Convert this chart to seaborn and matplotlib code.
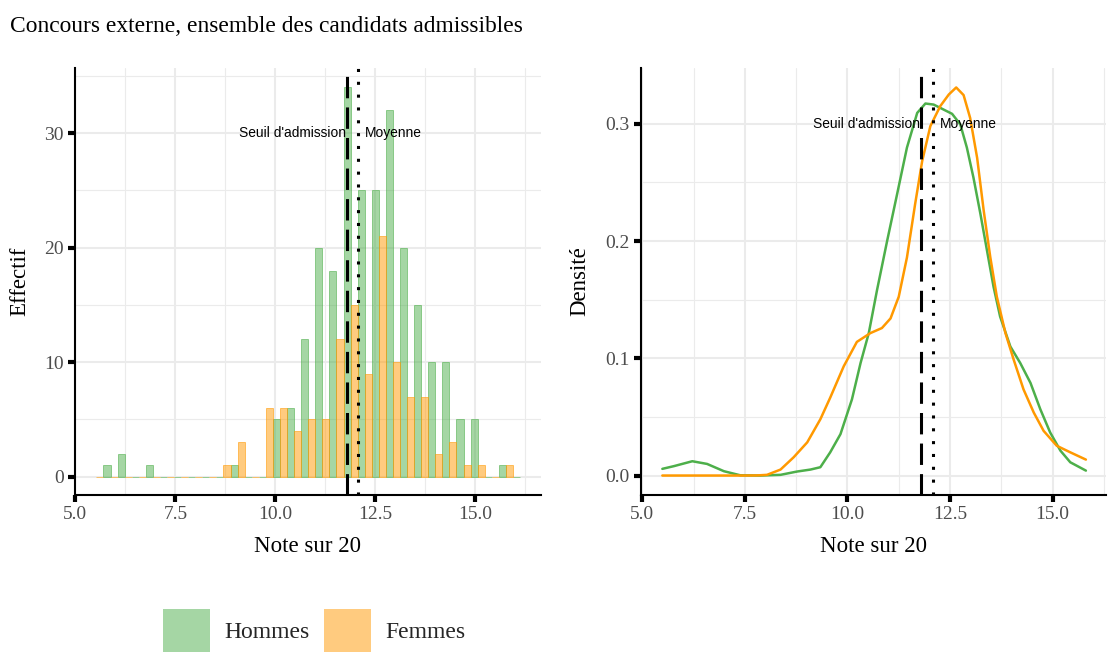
import numpy as np
import pandas as pd
import seaborn as sns
import matplotlib
matplotlib.use("Agg")
import matplotlib.pyplot as plt
from matplotlib.patches import Patch
from matplotlib.ticker import MultipleLocator

# ---------------- data ----------------
title = "Concours externe, ensemble des candidats admissibles"
groups = ["Hommes", "Femmes"]
colors = {"Hommes": "#4daf4a", "Femmes": "#ff9900"}

# histogram: 30 bins between these bounds
bin_lo, bin_hi, n_bins = 5.525, 16.125, 30
hommes_counts = [1, 2, 0, 1, 0, 0, 0, 0, 0, 1, 0, 0, 5, 6, 12, 20, 18, 34, 25, 25,
                 32, 20, 15, 10, 10, 5, 5, 0, 1, 0]
femmes_counts = [0, 0, 0, 0, 0, 0, 0, 0, 0, 1, 3, 0, 6, 6, 4, 5, 5, 12, 15, 9,
                 21, 10, 7, 7, 2, 3, 1, 1, 0, 1]

# density curves
dens_h_x = [5.49, 5.77, 6.22, 6.58, 6.99, 7.39, 7.88, 8.37, 8.77, 9.10, 9.34, 9.58,
            9.83, 10.11, 10.32, 10.52, 10.72, 10.97, 11.21, 11.45, 11.70, 11.90,
            12.10, 12.34, 12.55, 12.75, 12.91, 13.07, 13.24, 13.40, 13.56, 13.72,
            13.97, 14.21, 14.46, 14.70, 14.94, 15.19, 15.43, 15.81]
dens_h_y = [0.0057, 0.0080, 0.0122, 0.0099, 0.0037, 0.0002, 0.0, 0.0006, 0.0034,
            0.0051, 0.0071, 0.0198, 0.0353, 0.065, 0.096, 0.1215, 0.158, 0.2006,
            0.240, 0.2797, 0.3093, 0.3173, 0.3164, 0.3122, 0.3085, 0.2995, 0.2797,
            0.2542, 0.2232, 0.192, 0.161, 0.1356, 0.110, 0.096, 0.079, 0.0565,
            0.0367, 0.0212, 0.0113, 0.0042]
dens_f_x = [5.49, 7.50, 7.80, 8.04, 8.37, 8.69, 9.02, 9.34, 9.58, 9.91, 10.23, 10.56,
            10.84, 11.05, 11.25, 11.45, 11.65, 11.82, 12.02, 12.26, 12.47, 12.65,
            12.83, 12.99, 13.16, 13.32, 13.48, 13.64, 13.85, 14.05, 14.29, 14.54,
            14.78, 15.10, 15.43, 15.81]
dens_f_y = [0.0, 0.0, 0.0001, 0.0006, 0.0051, 0.0156, 0.0283, 0.048, 0.0664, 0.0932,
            0.114, 0.1215, 0.1258, 0.134, 0.1525, 0.186, 0.2317, 0.268, 0.298, 0.315,
            0.325, 0.331, 0.3245, 0.305, 0.271, 0.226, 0.1864, 0.1525, 0.1215, 0.0989,
            0.0735, 0.0537, 0.0381, 0.0254, 0.0198, 0.0136]

seuil = 11.80
moyenne = 12.08
seuil_label = "Seuil d'admission"
moyenne_label = "Moyenne"
xlabel = "Note sur 20"
ylabel_left = "Effectif"
ylabel_right = "Densité"

# ---------------- frames ----------------
bin_w = (bin_hi - bin_lo) / n_bins
centers = [bin_lo + bin_w * (i + 0.5) for i in range(n_bins)]
hist_df = pd.DataFrame({
    "note": centers + centers,
    "n": [float(v) for v in hommes_counts + femmes_counts],
    "sexe": ["Hommes"] * n_bins + ["Femmes"] * n_bins,
})
dens_df = pd.DataFrame({
    "note": dens_h_x + dens_f_x,
    "densite": dens_h_y + dens_f_y,
    "sexe": ["Hommes"] * len(dens_h_x) + ["Femmes"] * len(dens_f_x),
})

# ---------------- style ----------------
sns.set_theme(style="white")
plt.rcParams["font.family"] = ["Liberation Serif", "DejaVu Serif"]

fig = plt.figure(figsize=(11.1, 6.52), dpi=100)
W, H = 1110, 652
def rect(x0, y0, x1, y1):
    return [x0 / W, 1 - y1 / H, (x1 - x0) / W, (y1 - y0) / H]

ax1 = fig.add_axes(rect(75, 68, 541, 495))
ax2 = fig.add_axes(rect(641, 68, 1106, 495))

sns.histplot(data=hist_df, x="note", weights="n", hue="sexe", bins=n_bins,
             binrange=(bin_lo, bin_hi), multiple="dodge", shrink=1,
             hue_order=["Femmes", "Hommes"], palette=colors, alpha=0.5,
             linewidth=0.6, legend=False, ax=ax1)
for p in ax1.patches:
    fc = p.get_facecolor()
    p.set_edgecolor((fc[0], fc[1], fc[2], 0.65))
    p.set_facecolor((fc[0], fc[1], fc[2], 0.5))
    p.set_zorder(2)

sns.lineplot(data=dens_df, x="note", y="densite", hue="sexe", palette=colors,
             hue_order=["Hommes", "Femmes"], sort=False, estimator=None,
             linewidth=1.8, legend=False, ax=ax2, zorder=3)
for ln in ax2.lines:
    ln.set_solid_joinstyle("round")

grid_major = "#ebebeb"
for ax, ylim, ymaj, ymin, yfmt in [
    (ax1, (-1.6, 35.7), 10, 5, "{:.0f}"),
    (ax2, (-0.0166, 0.3476), 0.1, 0.05, "{:.1f}"),
]:
    ax.set_ylim(*ylim)
    ax.yaxis.set_major_locator(MultipleLocator(ymaj))
    ax.yaxis.set_minor_locator(MultipleLocator(ymin))
    ax.xaxis.set_major_locator(MultipleLocator(2.5))
    ax.xaxis.set_minor_locator(MultipleLocator(1.25))
    ax.yaxis.set_major_formatter(plt.FuncFormatter(lambda v, p, f=yfmt: f.format(v)))
    ax.xaxis.set_major_formatter(plt.FuncFormatter(lambda v, p: f"{v:.1f}"))
    ax.grid(which="major", color=grid_major, linewidth=1.5, zorder=0)
    ax.grid(which="minor", color=grid_major, linewidth=0.8, zorder=0)
    ax.set_axisbelow(True)
    for s in ["top", "right"]:
        ax.spines[s].set_visible(False)
    for s in ["left", "bottom"]:
        ax.spines[s].set_color("black")
        ax.spines[s].set_linewidth(1.5)
    ax.tick_params(which="major", bottom=True, left=True, length=5, width=3,
                   color="black", labelsize=14, labelcolor="#4d4d4d", pad=3)
    ax.tick_params(which="minor", bottom=False, left=False, length=0)
    ax.set_xlabel(xlabel, fontsize=16.5, color="black")
    ax.xaxis.set_label_coords(0.5, -0.095)
    ax.axvline(seuil, color="black", linewidth=2.2, linestyle=(0, (7, 3)), zorder=4,
               dash_capstyle="butt")
    ax.axvline(moyenne, color="black", linewidth=2.2, linestyle=(0, (1, 3.2)), zorder=4,
               dash_capstyle="butt")

ax1.set_xlim(4.99, 16.65)
ax2.set_xlim(4.97, 16.3)

ax1.set_ylabel(ylabel_left, fontsize=16.5, color="black")
ax1.yaxis.set_label_coords(-0.097, 0.5)
ax2.set_ylabel(ylabel_right, fontsize=16.5, color="black")
ax2.yaxis.set_label_coords(-0.108, 0.5)

sans = ["Liberation Sans", "DejaVu Sans"]
for ax, ytxt in [(ax1, 30), (ax2, 0.3)]:
    ax.annotate(seuil_label, (seuil, ytxt), xytext=(-1, 0), textcoords="offset points",
                ha="right", va="center", fontsize=9.9, family=sans, color="black", zorder=5)
    ax.annotate(moyenne_label, (moyenne, ytxt), xytext=(5, 0), textcoords="offset points",
                ha="left", va="center", fontsize=9.9, family=sans, color="black", zorder=5)

fig.text(10 / W, 1 - 32 / H, title, fontsize=16.9, ha="left", va="baseline", color="black")

handles = [Patch(facecolor=colors[g], alpha=0.5, edgecolor="none") for g in groups]
fig.legend(handles, groups, loc="center", bbox_to_anchor=(314 / W, 1 - 631 / H), ncol=2,
           frameon=False, fontsize=17, handlelength=2.0, handleheight=2.45,
           handletextpad=0.6, columnspacing=0.6, borderpad=0)

fig.savefig("out.png", dpi=100)
